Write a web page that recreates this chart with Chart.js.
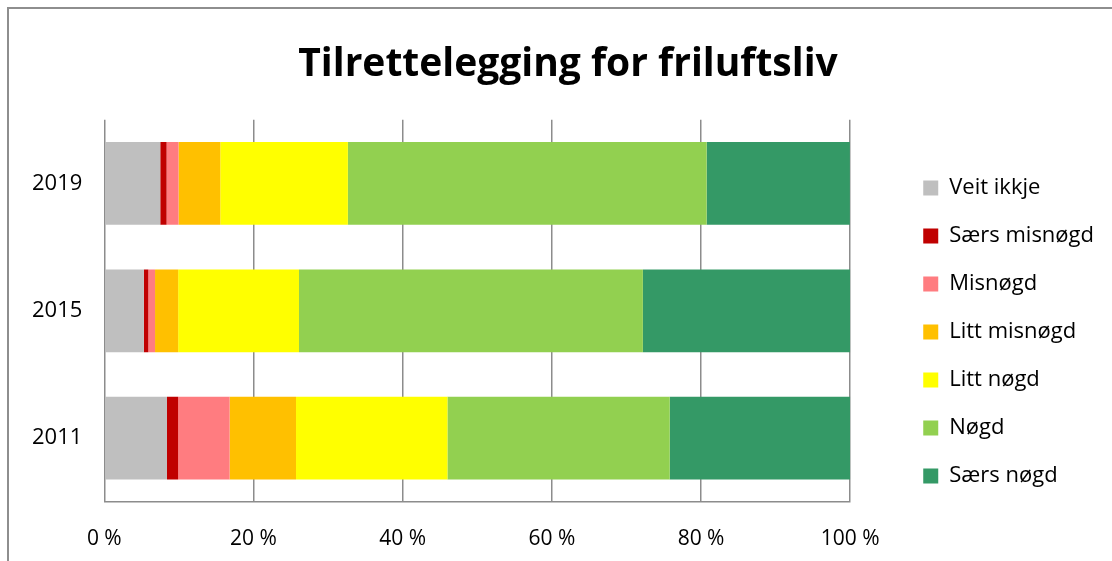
<!DOCTYPE html>
<html>
<head>
<meta charset="utf-8">
<script src="https://cdn.jsdelivr.net/npm/chart.js@4/dist/chart.umd.min.js"></script>
<style>
  html, body { margin: 0; padding: 0; background: #fff; overflow: hidden; }
  #frame { position: absolute; left: 7px; top: 7px; width: 1200px; height: 700px; border: 2px solid #8e8e8e; box-sizing: border-box; }
  #wrap { position: absolute; left: 0; top: 0; width: 1112px; height: 561px; }
</style>
</head>
<body>
<div id="frame"></div>
<div id="wrap"><canvas id="c" width="1112" height="561"></canvas></div>
<script>
const categories = ['2019', '2015', '2011'];
const seriesNames = ['Veit ikkje', 'Særs misnøgd', 'Misnøgd', 'Litt misnøgd', 'Litt nøgd', 'Nøgd', 'Særs nøgd'];
const veitIkkje   = [7.5, 5.3, 8.4];
const saersMisnogd = [0.85, 0.6, 1.5];
const misnogd     = [1.6, 0.9, 6.9];
const littMisnogd = [5.6, 3.1, 8.9];
const littNogd    = [17.1, 16.2, 20.3];
const nogd        = [48.1, 46.1, 29.8];
const saersNogd   = [19.2, 27.8, 24.2];
const xTicks = [0, 20, 40, 60, 80, 100];
const colors = ['#BFBFBF', '#C00000', '#FF7C80', '#FFC000', '#FFFF00', '#92D050', '#349966'];

const seriesValues = [veitIkkje, saersMisnogd, misnogd, littMisnogd, littNogd, nogd, saersNogd];
const datasets = seriesNames.map((n, i) => ({
  label: n,
  data: seriesValues[i],
  backgroundColor: colors[i],
  borderWidth: 0,
  barPercentage: 0.65,
  categoryPercentage: 1.0
}));

// widen the legend box (gap between plot and legend) and nudge legend/title
const LEGEND_EXTRA = 45, LEGEND_SHIFT_X = 47, LEGEND_SHIFT_Y = 27, TITLE_SHIFT_X = 12;
const layoutTweak = {
  id: 'layoutTweak',
  afterInit(chart) {
    const lg = chart.legend;
    if (!lg) return;
    const f = lg.fit.bind(lg);
    lg.fit = function () { f(); this.width += LEGEND_EXTRA; };
  },
  afterLayout(chart) {
    const lg = chart.legend;
    if (lg) {
      lg.left += LEGEND_SHIFT_X;
      lg.top += LEGEND_SHIFT_Y;
      lg.bottom += LEGEND_SHIFT_Y;
    }
    const tb = chart.titleBlock;
    if (tb) {
      tb.left += TITLE_SHIFT_X;
      tb.right += TITLE_SHIFT_X;
    }
  }
};

const FONT = '"Open Sans", Lato, sans-serif';
new Chart(document.getElementById('c'), {
  type: 'bar',
  data: { labels: categories, datasets },
  plugins: [layoutTweak],
  options: {
    indexAxis: 'y',
    responsive: false,
    animation: false,
    layout: { padding: { left: 10, right: 10, top: 33, bottom: -16 } },
    plugins: {
      title: {
        display: true,
        text: 'Tilrettelegging for friluftsliv',
        color: '#000',
        font: { family: FONT, size: 39, weight: 'bold' },
        padding: { top: 8, bottom: 32 }
      },
      legend: {
        position: 'right',
        align: 'center',
        labels: {
          color: '#000',
          font: { family: FONT, size: 22 },
          boxWidth: 15,
          boxHeight: 15,
          padding: 26
        }
      },
      tooltip: { enabled: false }
    },
    scales: {
      x: {
        stacked: true,
        min: 0, max: 100,
        afterBuildTicks: (ax) => { ax.ticks = xTicks.map(v => ({ value: v })); },
        ticks: {
          color: '#000',
          font: { family: FONT, size: 21 },
          padding: 25,
          callback: (v) => v + ' %'
        },
        grid: { color: '#8c8c8c', lineWidth: 1.5, drawTicks: false },
        border: { display: true, color: '#8c8c8c', width: 1.5 }
      },
      y: {
        stacked: true,
        ticks: {
          color: '#000',
          font: { family: FONT, size: 22 },
          padding: 22
        },
        grid: { display: false, drawTicks: false },
        border: { display: false }
      }
    }
  }
});
</script>
</body>
</html>
